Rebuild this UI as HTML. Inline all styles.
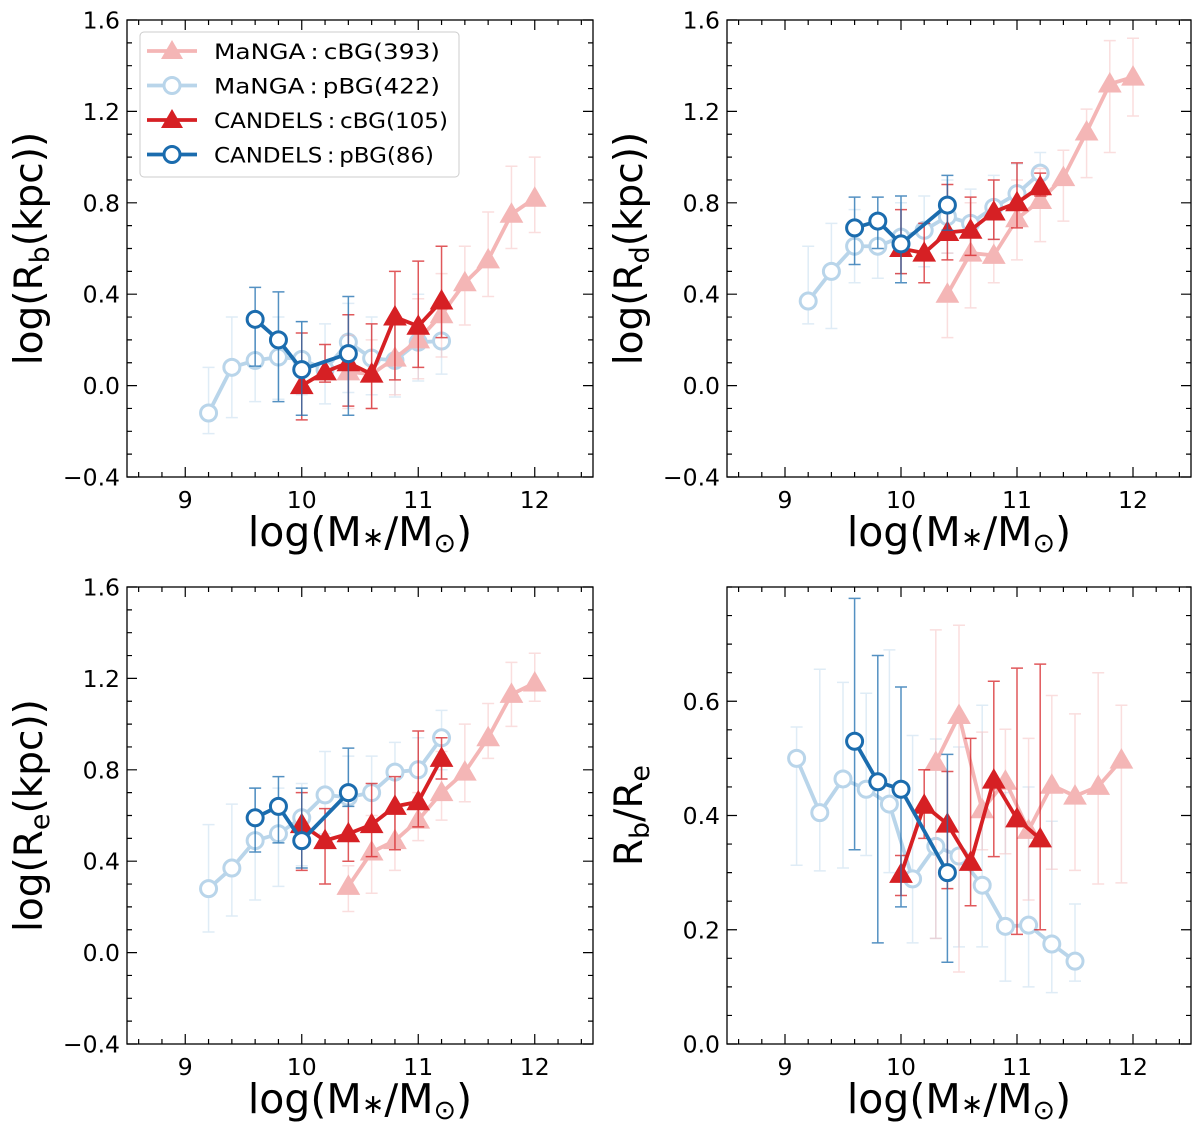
<!DOCTYPE html>
<html><head><meta charset="utf-8"><style>
html,body{margin:0;padding:0;background:#fff;}
svg{display:block;font-family:"DejaVu Sans","Liberation Sans",sans-serif;}
</style></head><body>
<svg id="fig" width="1200" height="1131" viewBox="0 0 1200 1131" xmlns="http://www.w3.org/2000/svg"></svg>
<script>
// ===== DATA =====
const mangaPbgX = [9.2,9.4,9.6,9.8,10.0,10.2,10.4,10.6,10.8,11.0,11.2];
const mangaCbgX = [10.4,10.6,10.8,11.0,11.2,11.4,11.6,11.8,12.0];
const candCbgX = [10.0,10.2,10.4,10.6,10.8,11.0,11.2];
const candPbgX = [9.6,9.8,10.0,10.4];

// Panel 1: log Rb
const p1MangaPbg = [-0.12,0.08,0.11,0.125,0.115,0.07,0.19,0.12,0.11,0.19,0.195];
const p1MangaPbgLo = [-0.21,-0.14,-0.07,-0.06,-0.04,-0.08,-0.03,-0.04,-0.05,0.02,0.05];
const p1MangaPbgHi = [0.08,0.30,0.30,0.30,0.28,0.27,0.36,0.30,0.30,0.40,0.34];
const p1MangaCbg = [0.06,0.05,0.12,0.20,0.31,0.45,0.55,0.75,0.82];
const p1MangaCbgLo = [-0.10,-0.10,-0.04,0.03,0.125,0.265,0.39,0.60,0.67];
const p1MangaCbgHi = [0.22,0.20,0.28,0.38,0.49,0.61,0.76,0.96,1.00];
const p1CandCbg = [0.0,0.06,0.10,0.05,0.30,0.26,0.37];
const p1CandCbgLo = [-0.15,0.015,-0.09,-0.10,0.025,0.08,0.21];
const p1CandCbgHi = [0.23,0.18,0.31,0.27,0.50,0.545,0.61];
const p1CandPbg = [0.29,0.20,0.07,0.14];
const p1CandPbgLo = [0.085,-0.07,-0.13,-0.13];
const p1CandPbgHi = [0.43,0.41,0.28,0.39];

// Panel 2: log Rd
const p2MangaPbg = [0.37,0.50,0.61,0.61,0.65,0.68,0.74,0.71,0.78,0.84,0.93];
const p2MangaPbgLo = [0.27,0.25,0.45,0.47,0.49,0.52,0.58,0.56,0.64,0.70,0.80];
const p2MangaPbgHi = [0.61,0.71,0.77,0.75,0.80,0.83,0.90,0.86,0.92,0.97,1.02];
const p2MangaCbg = [0.40,0.58,0.57,0.73,0.81,0.91,1.11,1.32,1.35];
const p2MangaCbgLo = [0.21,0.34,0.45,0.55,0.63,0.72,0.91,1.02,1.18];
const p2MangaCbgHi = [0.58,0.80,0.75,0.90,0.95,1.03,1.21,1.51,1.52];
const p2CandCbg = [0.60,0.58,0.67,0.68,0.76,0.80,0.87];
const p2CandCbgLo = [0.49,0.45,0.55,0.57,0.64,0.69,0.83];
const p2CandCbgHi = [0.77,0.71,0.88,0.825,0.90,0.975,0.93];
const p2CandPbg = [0.69,0.72,0.62,0.79];
const p2CandPbgLo = [0.53,0.60,0.45,0.68];
const p2CandPbgHi = [0.825,0.825,0.83,0.92];

// Panel 3: log Re
const p3MangaPbg = [0.28,0.37,0.49,0.52,0.59,0.69,0.68,0.70,0.79,0.80,0.94];
const p3MangaPbgLo = [0.09,0.16,0.23,0.29,0.38,0.52,0.50,0.55,0.64,0.66,0.80];
const p3MangaPbgHi = [0.56,0.65,0.72,0.72,0.74,0.88,0.86,0.86,0.92,0.94,1.06];
const p3MangaCbg = [0.29,0.44,0.49,0.58,0.70,0.79,0.94,1.13,1.18];
const p3MangaCbgLo = [0.18,0.26,0.36,0.49,0.58,0.66,0.85,0.99,1.10];
const p3MangaCbgHi = [0.38,0.60,0.62,0.70,0.88,1.00,1.09,1.27,1.31];
const p3CandCbg = [0.56,0.49,0.52,0.56,0.64,0.66,0.85];
const p3CandCbgLo = [0.36,0.30,0.40,0.42,0.45,0.55,0.76];
const p3CandCbgHi = [0.70,0.63,0.68,0.74,0.77,0.97,0.94];
const p3CandPbg = [0.59,0.64,0.49,0.70];
const p3CandPbgLo = [0.44,0.48,0.37,0.64];
const p3CandPbgHi = [0.72,0.77,0.72,0.895];

// Panel 4: Rb/Re
const p4MangaPbgX = [9.1,9.3,9.5,9.7,9.9,10.1,10.3,10.5,10.7,10.9,11.1,11.3,11.5];
const p4MangaPbg = [0.50,0.405,0.464,0.446,0.42,0.289,0.346,0.329,0.278,0.206,0.208,0.175,0.145];
const p4MangaPbgLo = [0.313,0.303,0.308,0.33,0.30,0.177,0.185,0.17,0.17,0.11,0.10,0.09,0.11];
const p4MangaPbgHi = [0.555,0.656,0.633,0.614,0.69,0.54,0.534,0.52,0.593,0.44,0.45,0.39,0.245];
const p4MangaCbgX = [10.3,10.5,10.7,10.9,11.1,11.3,11.5,11.7,11.9];
const p4MangaCbg = [0.493,0.575,0.41,0.46,0.374,0.453,0.434,0.451,0.497];
const p4MangaCbgLo = [0.185,0.126,0.34,0.333,0.252,0.306,0.304,0.28,0.282];
const p4MangaCbgHi = [0.725,0.733,0.546,0.551,0.535,0.61,0.578,0.65,0.593];
const p4CandCbg = [0.297,0.418,0.385,0.318,0.462,0.394,0.359];
const p4CandCbgLo = [0.26,0.36,0.272,0.242,0.328,0.192,0.20];
const p4CandCbgHi = [0.33,0.48,0.477,0.535,0.635,0.658,0.665];
const p4CandPbg = [0.53,0.459,0.446,0.30];
const p4CandPbgLo = [0.34,0.177,0.24,0.143];
const p4CandPbgHi = [0.78,0.68,0.625,0.507];

const yTicksLog = [-0.4,0.0,0.4,0.8,1.2,1.6];
const yTicksRatio = [0.0,0.2,0.4,0.6];
const xTicks = [9,10,11,12];

// ===== DRAWING =====
const NS = "http://www.w3.org/2000/svg";
const svg = document.getElementById('fig');
function mk(tag, attrs, parent){
  const e = document.createElementNS(NS, tag);
  for (const k in attrs) e.setAttribute(k, attrs[k]);
  (parent||svg).appendChild(e);
  return e;
}
const C = {lr:'#f4b6b6', lb:'#b9d5ea', r:'#d62024', b:'#1b6cae'};

function panel(name, L, R, T, B, ymin, ymax, yticks, yfmt, yminor, ylabelParts, series){
  const g = mk('g', {});
  
  
  const sx = v => L + (v-8.5)/(12.5-8.5)*(R-L);
  const sy = v => B - (v-ymin)/(ymax-ymin)*(B-T);
  const plot = mk('g', {}, g);
  
  
  series.forEach(s => {
    const sg = mk('g', {opacity: s.op}, plot);
    
    
    s.x.forEach((xv,i) => {
      const X = sx(xv);
      const eb = mk('path', {d:`M${X},${sy(s.lo[i])}V${sy(s.hi[i])}M${X-6},${sy(s.lo[i])}h12M${X-6},${sy(s.hi[i])}h12`, stroke:s.ec, 'stroke-width':1.5, fill:'none', opacity:s.eop}, sg);
      
      
    });
    const pts = s.x.map((xv,i)=>sx(xv)+','+sy(s.y[i])).join(' ');
    const ln = mk('polyline', {points:pts, fill:'none', stroke:s.c, 'stroke-width':3.8}, sg);
    
    
    s.x.forEach((xv,i) => {
      const X = sx(xv), Y = sy(s.y[i]);
      let m;
      if (s.tri) m = mk('path', {d:`M${X},${Y-11}L${X+11},${Y+8}L${X-11},${Y+8}Z`, fill:s.c, stroke:s.c, 'stroke-width':1}, sg);
      else m = mk('circle', {cx:X, cy:Y, r:8, fill:'#fff', stroke:s.c, 'stroke-width':3}, sg);
      
      
    });
  });
  const fr = mk('rect', {x:L, y:T, width:R-L, height:B-T, fill:'none', stroke:'#000', 'stroke-width':1.3}, g);
  
  
  let d = '';
  for (let v=8.6; v<12.5; v+=0.2){
    const X = sx(v); const major = Math.abs(v-Math.round(v))<0.01;
    const len = major?10:5;
    d += `M${X},${B}v${-len}M${X},${T}v${len}`;
  }
  for (let v=ymin; v<=ymax+1e-6; v+=yminor){
    const Y = sy(v); const major = yticks.some(t=>Math.abs(t-v)<1e-6);
    const len = major?10:5;
    d += `M${L},${Y}h${len}M${R},${Y}h${-len}`;
  }
  const tk = mk('path', {d, stroke:'#000', 'stroke-width':1.2, fill:'none'}, g);
  
  
  xTicks.forEach(v => {
    const t = mk('text', {x:sx(v), y:B+31, 'text-anchor':'middle', 'font-size':23.5}, g);
    t.textContent = v;
    
    
  });
  yticks.forEach(v => {
    const t = mk('text', {x:L-7, y:sy(v)+8.5, 'text-anchor':'end', 'font-size':23.5}, g);
    t.textContent = yfmt(v);
    
    
  });
  const xl = mk('text', {x:(L+R)/2, y:B+69, 'text-anchor':'middle', 'font-size':41}, g);
  xl.innerHTML = 'log(M<tspan font-size="27">∗</tspan>/M<tspan font-size="27" dy="6">⊙</tspan><tspan dy="-6">)</tspan>';
  
  
  const yl = mk('text', {x:0, y:0, 'text-anchor':'middle', 'font-size':39, transform:`translate(${L-85},${(T+B)/2}) rotate(-90)`}, g);
  yl.innerHTML = ylabelParts;
  
  
}
const fmtLog = v => (v<0?'\u2212':'') + Math.abs(v).toFixed(1);
function mkSeries(mx, my, mlo, mhi, cx, cy, clo, chi, px, py, plo, phi, ppx, ppy, pplo, pphi){
  return [
    {name:'manga-pbg-series', x:mx, y:my, lo:mlo, hi:mhi, c:C.lb, ec:C.lb, tri:false, op:1, eop:0.45},
    {name:'manga-cbg-series', x:cx, y:cy, lo:clo, hi:chi, c:C.lr, ec:C.lr, tri:true, op:1, eop:0.45},
    {name:'candels-cbg-series', x:px, y:py, lo:plo, hi:phi, c:C.r, ec:C.r, tri:true, op:1, eop:0.75},
    {name:'candels-pbg-series', x:ppx, y:ppy, lo:pplo, hi:pphi, c:C.b, ec:C.b, tri:false, op:1, eop:0.75}
  ];
}
panel('panel-rb', 127, 593, 20, 477, -0.4, 1.6, yTicksLog, fmtLog, 0.1,
  'log(R<tspan font-size="27" dy="7">b</tspan><tspan dy="-7">(kpc))</tspan>',
  mkSeries(mangaPbgX,p1MangaPbg,p1MangaPbgLo,p1MangaPbgHi, mangaCbgX,p1MangaCbg,p1MangaCbgLo,p1MangaCbgHi,
           candCbgX,p1CandCbg,p1CandCbgLo,p1CandCbgHi, candPbgX,p1CandPbg,p1CandPbgLo,p1CandPbgHi));
panel('panel-rd', 727, 1191, 20, 477, -0.4, 1.6, yTicksLog, fmtLog, 0.1,
  'log(R<tspan font-size="27" dy="7">d</tspan><tspan dy="-7">(kpc))</tspan>',
  mkSeries(mangaPbgX,p2MangaPbg,p2MangaPbgLo,p2MangaPbgHi, mangaCbgX,p2MangaCbg,p2MangaCbgLo,p2MangaCbgHi,
           candCbgX,p2CandCbg,p2CandCbgLo,p2CandCbgHi, candPbgX,p2CandPbg,p2CandPbgLo,p2CandPbgHi));
panel('panel-re', 127, 593, 587, 1044, -0.4, 1.6, yTicksLog, fmtLog, 0.1,
  'log(R<tspan font-size="27" dy="7">e</tspan><tspan dy="-7">(kpc))</tspan>',
  mkSeries(mangaPbgX,p3MangaPbg,p3MangaPbgLo,p3MangaPbgHi, mangaCbgX,p3MangaCbg,p3MangaCbgLo,p3MangaCbgHi,
           candCbgX,p3CandCbg,p3CandCbgLo,p3CandCbgHi, candPbgX,p3CandPbg,p3CandPbgLo,p3CandPbgHi));
panel('panel-ratio', 727, 1191, 587, 1044, 0.0, 0.8, yTicksRatio, v=>v.toFixed(1), 0.05,
  'R<tspan font-size="27" dy="7">b</tspan><tspan dy="-7">/R</tspan><tspan font-size="27" dy="7">e</tspan>',
  mkSeries(p4MangaPbgX,p4MangaPbg,p4MangaPbgLo,p4MangaPbgHi, p4MangaCbgX,p4MangaCbg,p4MangaCbgLo,p4MangaCbgHi,
           candCbgX,p4CandCbg,p4CandCbgLo,p4CandCbgHi, candPbgX,p4CandPbg,p4CandPbgLo,p4CandPbgHi));

// legend
const lg = mk('g', {});


mk('rect', {x:140, y:32, width:319, height:145, rx:4, fill:'#fff', 'fill-opacity':0.85, stroke:'#ccc', 'stroke-width':1}, lg);
const legendLabels = ['MaNGA\u2009:\u2009cBG(393)','MaNGA\u2009:\u2009pBG(422)','CANDELS\u2009:\u2009cBG(105)','CANDELS\u2009:\u2009pBG(86)'];
const legendColors = [C.lr, C.lb, C.r, C.b];
const legendTri = [true,false,true,false];
legendLabels.forEach((lab,i) => {
  const Y = 51 + i*34.5;
  const e = mk('g', {}, lg);
  
  
  mk('line', {x1:147, x2:197, y1:Y, y2:Y, stroke:legendColors[i], 'stroke-width':3.8}, e);
  if (legendTri[i]) mk('path', {d:`M172,${Y-11}L183,${Y+8}L161,${Y+8}Z`, fill:legendColors[i]}, e);
  else mk('circle', {cx:172, cy:Y, r:8, fill:'#fff', stroke:legendColors[i], 'stroke-width':3}, e);
  const t = mk('text', {x:214, y:Y+8, 'font-size':21.5, textLength: [226,226,234,220][i], lengthAdjust:'spacingAndGlyphs'}, e);
  t.textContent = lab;
});
</script>
</body></html>
